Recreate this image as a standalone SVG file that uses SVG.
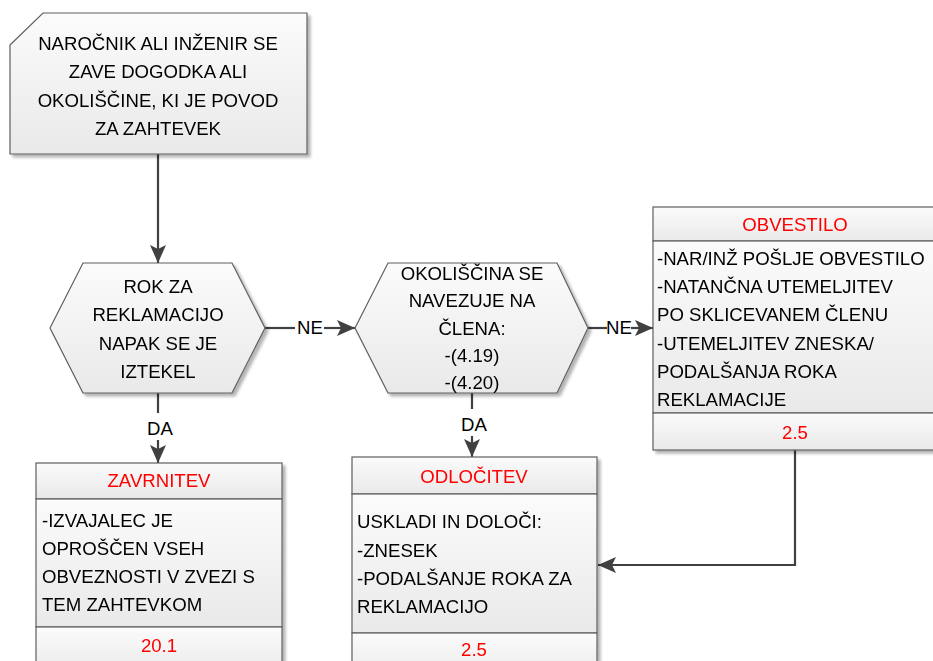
<svg xmlns="http://www.w3.org/2000/svg" width="933" height="661" viewBox="0 0 933 661">
<defs>
<linearGradient id="g" x1="0" y1="0" x2="0" y2="1">
<stop offset="0" stop-color="#fbfbfb"/>
<stop offset="1" stop-color="#e9e9e9"/>
</linearGradient>
<filter id="sh" x="-5%" y="-5%" width="115%" height="115%">
<feGaussianBlur in="SourceAlpha" stdDeviation="1.5"/>
<feOffset dx="3" dy="3" result="b"/>
<feComponentTransfer><feFuncA type="linear" slope="0.3"/></feComponentTransfer>
<feMerge><feMergeNode/><feMergeNode in="SourceGraphic"/></feMerge>
</filter>
<marker id="arr" viewBox="0 0 18 16" refX="18" refY="8" markerWidth="18" markerHeight="16" markerUnits="userSpaceOnUse" orient="auto">
<path d="M0,0 L18,8 L0,16 L4,8 z" fill="#404040"/>
</marker>
</defs>
<style>
.shape{fill:url(#g);stroke:#5f5f5f;stroke-width:1.2}
.t{font-family:"Liberation Sans",Arial,sans-serif;font-size:18.6px;fill:#000}
.c{text-anchor:middle}
.red{fill:#ff0000}
.conn{fill:none;stroke:#404040;stroke-width:2.2}
</style>

<g id="connectors">
<path class="conn" d="M158,154 V263" marker-end="url(#arr)"/>
<path class="conn" d="M265,328 H295"/>
<path class="conn" d="M324,328 H355" marker-end="url(#arr)"/>
<text class="t c" x="310" y="334">NE</text>
<path class="conn" d="M588,328 H607"/>
<path class="conn" d="M631,328 H653" marker-end="url(#arr)"/>
<text class="t c" x="619" y="334">NE</text>
<path class="conn" d="M158,393 V413"/>
<path class="conn" d="M158,440 V463" marker-end="url(#arr)"/>
<text class="t c" x="160" y="435">DA</text>
<path class="conn" d="M472,393 V409"/>
<path class="conn" d="M472,436 V457" marker-end="url(#arr)"/>
<text class="t c" x="474" y="431">DA</text>
<path class="conn" d="M795,450 V565 H598" marker-end="url(#arr)"/>
</g>

<g id="start" filter="url(#sh)">
<path class="shape" d="M10,45 L43,13 L307,13 L307,154 L10,154 Z"/>
<text class="t c" x="158" y="50">NAROČNIK ALI INŽENIR SE</text>
<text class="t c" x="158" y="78">ZAVE DOGODKA ALI</text>
<text class="t c" x="158" y="107">OKOLIŠČINE, KI JE POVOD</text>
<text class="t c" x="158" y="135">ZA ZAHTEVEK</text>
</g>

<g id="decision1" filter="url(#sh)">
<path class="shape" d="M50,328 L83,263 L232,263 L265,328 L232,393 L83,393 Z"/>
<text class="t c" x="158" y="293">ROK ZA</text>
<text class="t c" x="158" y="321">REKLAMACIJO</text>
<text class="t c" x="158" y="350">NAPAK SE JE</text>
<text class="t c" x="158" y="378">IZTEKEL</text>
</g>

<g id="decision2" filter="url(#sh)">
<path class="shape" d="M355,328 L388,263 L557,263 L588,328 L557,393 L388,393 Z"/>
<text class="t c" x="472" y="280">OKOLIŠČINA SE</text>
<text class="t c" x="472" y="307">NAVEZUJE NA</text>
<text class="t c" x="472" y="335">ČLENA:</text>
<text class="t c" x="472" y="362">-(4.19)</text>
<text class="t c" x="472" y="389">-(4.20)</text>
</g>

<g id="obvestilo" filter="url(#sh)">
<rect class="shape" x="653" y="207" width="290" height="34"/>
<rect class="shape" x="653" y="241" width="290" height="172"/>
<rect class="shape" x="653" y="413" width="290" height="37"/>
<text class="t c red" x="795" y="231">OBVESTILO</text>
<text class="t" x="657" y="265">-NAR/INŽ POŠLJE OBVESTILO</text>
<text class="t" x="657" y="293">-NATANČNA UTEMELJITEV</text>
<text class="t" x="657" y="321">PO SKLICEVANEM ČLENU</text>
<text class="t" x="657" y="350">-UTEMELJITEV ZNESKA/</text>
<text class="t" x="657" y="378">PODALŠANJA ROKA</text>
<text class="t" x="657" y="406">REKLAMACIJE</text>
<text class="t c red" x="795" y="439">2.5</text>
</g>

<g id="zavrnitev" filter="url(#sh)">
<rect class="shape" x="36" y="463" width="246" height="36"/>
<rect class="shape" x="36" y="499" width="246" height="128"/>
<rect class="shape" x="36" y="627" width="246" height="50"/>
<text class="t c red" x="159" y="487">ZAVRNITEV</text>
<text class="t" x="42" y="527">-IZVAJALEC JE</text>
<text class="t" x="42" y="555">OPROŠČEN VSEH</text>
<text class="t" x="42" y="583">OBVEZNOSTI V ZVEZI S</text>
<text class="t" x="42" y="611">TEM ZAHTEVKOM</text>
<text class="t c red" x="159" y="652">20.1</text>
</g>

<g id="odlocitev" filter="url(#sh)">
<rect class="shape" x="352" y="457" width="245" height="37"/>
<rect class="shape" x="352" y="494" width="245" height="139"/>
<rect class="shape" x="352" y="633" width="245" height="50"/>
<text class="t c red" x="474" y="483">ODLOČITEV</text>
<text class="t" x="357" y="528">USKLADI IN DOLOČI:</text>
<text class="t" x="357" y="557">-ZNESEK</text>
<text class="t" x="357" y="585">-PODALŠANJE ROKA ZA</text>
<text class="t" x="357" y="613">REKLAMACIJO</text>
<text class="t c red" x="474" y="656">2.5</text>
</g>
</svg>
